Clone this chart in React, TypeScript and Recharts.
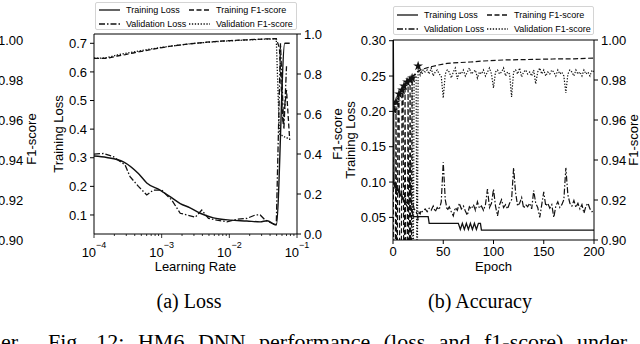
import { ComposedChart, Legend, Line, ReferenceLine, Scatter, XAxis, YAxis, ZAxis } from 'recharts'

const FONT = '"Liberation Sans", Arial, sans-serif'
const SERIF = '"Liberation Serif", "Times New Roman", serif'
const INK = '#111'

const DASH = '5 2.5'
const DASHDOT = '6 2 1.5 2'
const DOT = '1.3 1.6'

// ---- (a) Loss: learning-rate sweep ----
const lrTicks = [1e-4, 1e-3, 1e-2, 1e-1]
const lrMinor = [
  2e-4, 3e-4, 4e-4, 5e-4, 6e-4, 7e-4, 8e-4, 9e-4,
  2e-3, 3e-3, 4e-3, 5e-3, 6e-3, 7e-3, 8e-3, 9e-3,
  2e-2, 3e-2, 4e-2, 5e-2, 6e-2, 7e-2, 8e-2, 9e-2,
]
const lossTicksA = [0.1, 0.2, 0.3, 0.4, 0.5, 0.6, 0.7]
const f1TicksA = [0, 0.2, 0.4, 0.6, 0.8, 1.0]
const lossDomainA: [number, number] = [0.0335, 0.7325]

const lrTrainLoss = [1e-4, 1.54e-4, 2.72e-4, 4.53e-4, 6.02e-4, 9.48e-4, 1.33e-3, 1.88e-3, 2.63e-3, 3.71e-3, 5.83e-3, 1.03e-2, 1.82e-2, 2.86e-2, 3.6e-2, 4.94e-2, 6.6e-2, 7.8e-2]
const trainLossA = [0.306, 0.301, 0.286, 0.245, 0.212, 0.187, 0.164, 0.14, 0.125, 0.106, 0.09, 0.082, 0.079, 0.076, 0.08, 0.065, 0.7, 0.7]

const lrValLoss = [1e-4, 1.37e-4, 1.93e-4, 2.88e-4, 3.41e-4, 4.53e-4, 6.02e-4, 7.55e-4, 1.0e-3, 1.41e-3, 1.88e-3, 2.35e-3, 3.13e-3, 3.92e-3, 4.92e-3, 6.53e-3, 9.2e-3, 1.29e-2, 1.82e-2, 2.42e-2, 2.86e-2, 3.4e-2, 4.26e-2, 4.94e-2, 5.7e-2, 6.4e-2, 7.0e-2]
const valLossA = [0.313, 0.315, 0.304, 0.275, 0.234, 0.2, 0.17, 0.187, 0.187, 0.152, 0.106, 0.1, 0.092, 0.117, 0.088, 0.082, 0.076, 0.085, 0.088, 0.1, 0.1, 0.082, 0.071, 0.065, 0.7, 0.4, 0.62]

const lrF1 = [1e-4, 1.3e-4, 1.6e-4, 2.2e-4, 2.9e-4, 3.8e-4, 5e-4, 6.6e-4, 8.7e-4, 1.15e-3, 1.5e-3, 2e-3, 2.6e-3, 3.5e-3, 4.6e-3, 6e-3, 8e-3, 1.05e-2, 1.4e-2, 1.8e-2, 2.4e-2, 3.2e-2, 4.2e-2, 4.94e-2, 5.5e-2, 6.2e-2, 7e-2, 7.8e-2]
const trainF1A = [0.878, 0.878, 0.879, 0.89, 0.897, 0.905, 0.913, 0.921, 0.928, 0.935, 0.941, 0.946, 0.951, 0.955, 0.959, 0.962, 0.965, 0.967, 0.969, 0.971, 0.973, 0.975, 0.976, 0.977, 0.93, 0.55, 0.72, 0.47]
const valF1A = [0.88, 0.879, 0.883, 0.895, 0.903, 0.91, 0.917, 0.924, 0.93, 0.936, 0.941, 0.946, 0.951, 0.955, 0.958, 0.961, 0.964, 0.966, 0.968, 0.97, 0.972, 0.974, 0.975, 0.976, 0.5, 0.49, 0.48, 0.48]

// ---- (b) Accuracy: training over epochs ----
const epochTicks = [0, 50, 100, 150, 200]
const lossTicksB = [0.05, 0.1, 0.15, 0.2, 0.25, 0.3]
const f1TicksB = [0.9, 0.92, 0.94, 0.96, 0.98, 1.0]
const lossDomainB: [number, number] = [0.018, 0.301]

const trainLossEpochs = [0, 1, 2, 3, 4, 5, 6, 7, 8, 9, 10, 11, 12, 13, 14, 15, 16, 17, 18, 19, 20, 35, 36, 65, 67, 69, 71, 73, 75, 77, 79, 81, 83, 85, 87, 88, 200]
const trainLossB = [0.4, 0.098, 0.092, 0.094, 0.088, 0.09, 0.085, 0.083, 0.08, 0.078, 0.075, 0.073, 0.07, 0.068, 0.066, 0.064, 0.062, 0.061, 0.06, 0.06, 0.051, 0.051, 0.0415, 0.0415, 0.033, 0.0415, 0.033, 0.0415, 0.033, 0.0415, 0.033, 0.0415, 0.033, 0.0415, 0.0415, 0.032, 0.032]

const trainF1Epochs = [0, 1, 2, 3, 4, 5, 6, 7, 8, 9, 10, 11, 12, 13, 14, 15, 16, 17, 18, 19, 20, 21, 22, 23, 24, 25, 30, 37, 45, 54, 65, 77, 90, 110, 130, 159, 180, 200]
const trainF1B = [0.964, 0.85, 0.85, 0.969, 0.85, 0.972, 0.973, 0.85, 0.85, 0.975, 0.976, 0.85, 0.977, 0.85, 0.85, 0.979, 0.85, 0.98, 0.85, 0.981, 0.982, 0.9825, 0.983, 0.9835, 0.984, 0.9845, 0.9855, 0.9865, 0.9875, 0.9883, 0.9887, 0.989, 0.9895, 0.99, 0.9902, 0.9905, 0.9906, 0.991]

const valEpochs = [
  0, 1, 2, 3, 4, 5, 6, 7, 8, 9, 10, 11, 12, 13, 14, 15, 16, 17, 18, 19, 20, 21, 22, 23, 24, 25, 26, 27, 28, 29, 30,
  32, 34, 36, 38, 40, 42, 44, 46, 48, 50, 52, 54, 56, 58, 60, 62, 64, 66, 68, 70, 72, 74, 76, 78, 80, 82, 84, 86, 88, 90,
  92, 94, 96, 98, 100, 102, 104, 106, 108, 110, 112, 114, 116, 118, 120, 122, 124, 126, 128, 130, 132, 134, 136, 138, 140,
  142, 144, 146, 148, 150, 152, 154, 156, 158, 160, 162, 164, 166, 168, 170, 172, 174, 176, 178, 180, 182, 184, 186, 188, 190,
  192, 194, 196, 198, 200,
]
const valF1B = [
  0.962, 0.965, 0.967, 0.969, 0.97, 0.972, 0.973, 0.974, 0.975, 0.975, 0.976, 0.977, 0.977, 0.978, 0.979, 0.979, 0.98, 0.98, 0.981, 0.981, 0.85, 0.982, 0.983, 0.982, 0.85, 0.987, 0.984, 0.9825, 0.9845, 0.983, 0.985,
  0.984, 0.985, 0.983, 0.986, 0.982, 0.984, 0.985, 0.983, 0.982, 0.971, 0.983, 0.985, 0.984, 0.981, 0.984, 0.986, 0.9805, 0.984, 0.983, 0.985,
  0.982, 0.984, 0.986, 0.983, 0.984, 0.985, 0.981, 0.984, 0.983, 0.985, 0.982, 0.984, 0.986, 0.983, 0.976, 0.984, 0.985, 0.983, 0.984, 0.986,
  0.982, 0.984, 0.983, 0.9715, 0.984, 0.985, 0.983, 0.986, 0.9815, 0.984, 0.985, 0.983, 0.984, 0.982, 0.985, 0.978, 0.984, 0.986, 0.983, 0.985,
  0.982, 0.984, 0.983, 0.985, 0.984, 0.982, 0.985, 0.983, 0.984, 0.982, 0.9735, 0.983, 0.985, 0.984, 0.982, 0.985, 0.983, 0.984, 0.982, 0.985,
  0.983, 0.984, 0.982, 0.985, 0.984,
]
const valLossB = [
  0.11, 0.095, 0.1, 0.088, 0.092, 0.085, 0.09, 0.083, 0.087, 0.08, 0.078, 0.075, 0.08, 0.072, 0.07, 0.075, 0.068, 0.128, 0.07, 0.065, 0.068, 0.062, 0.06, 0.058, 0.055, 0.046, 0.057, 0.055, 0.06, 0.058, 0.059,
  0.062, 0.058, 0.063, 0.06, 0.066, 0.058, 0.064, 0.061, 0.072, 0.128, 0.075, 0.06, 0.065, 0.058, 0.052, 0.064, 0.06, 0.07, 0.062, 0.066,
  0.059, 0.053, 0.065, 0.062, 0.068, 0.06, 0.072, 0.063, 0.066, 0.06, 0.068, 0.09, 0.064, 0.07, 0.09, 0.066, 0.052, 0.068, 0.075, 0.064,
  0.068, 0.062, 0.07, 0.075, 0.12, 0.085, 0.066, 0.07, 0.078, 0.063, 0.068, 0.065, 0.07, 0.062, 0.088, 0.07, 0.064, 0.05, 0.068, 0.086,
  0.066, 0.07, 0.063, 0.068, 0.05, 0.066, 0.072, 0.064, 0.068, 0.075, 0.12, 0.082, 0.07, 0.066, 0.074, 0.064, 0.07, 0.062, 0.068, 0.056,
  0.066, 0.07, 0.062, 0.058, 0.06,
]
const starEpochs = [1, 3, 6, 9, 11, 14, 17, 19, 25]
const starF1 = [0.965, 0.969, 0.973, 0.975, 0.977, 0.979, 0.98, 0.981, 0.987]

// cut-off right axis of the neighbouring figure (its curves lie off-page)
const prevF1Ticks = [0.9, 0.92, 0.94, 0.96, 0.98, 1.0]
const prevRows = [{ x: 0, y: 0.95 }, { x: 1, y: 0.95 }]

const pts = (xs: number[], ys: number[]) => xs.map((x, i) => ({ x, y: ys[i] }))

const legendItems = [
  { label: 'Training Loss', dash: undefined as string | undefined, col: 0, row: 0 },
  { label: 'Validation Loss', dash: DASHDOT, col: 0, row: 1 },
  { label: 'Training F1-score', dash: DASH, col: 1, row: 0 },
  { label: 'Validation F1-score', dash: DOT, col: 1, row: 1 },
]

const LegendBox = ({ width, boxH, outerH, rowTop }: { width: number; boxH: number; outerH: number; rowTop: number }) => (
  <div style={{ width, height: outerH, position: 'relative' }}>
    <div
      style={{
        position: 'absolute', left: 0, top: 0, width: width - 2, height: boxH - 2,
        border: '1px solid #d4d4d4', borderRadius: 2, background: '#fff',
      }}
    >
      {legendItems.map((it) => (
        <div
          key={it.label}
          style={{
            position: 'absolute', left: 3 + it.col * 90, top: rowTop + it.row * 13.4 - 6, height: 12,
            display: 'flex', alignItems: 'center', whiteSpace: 'nowrap',
          }}
        >
          <svg width={21} height={4} style={{ display: 'block' }}>
            <line x1={0} x2={21} y1={2} y2={2} stroke={INK} strokeWidth={1.3} strokeDasharray={it.dash} />
          </svg>
          <span style={{ marginLeft: 6, fontSize: 9, fontFamily: FONT, color: '#000', lineHeight: '12px' }}>{it.label}</span>
        </div>
      ))}
    </div>
  </div>
)

const AxisTitle = (props: any) => {
  const { tx, ty, rot, text } = props
  return (
    <text
      x={tx} y={ty} textAnchor="middle" fill="#000" fontSize={13} fontFamily={FONT}
      transform={rot ? `rotate(-90 ${tx} ${ty})` : undefined}
    >
      {text}
    </text>
  )
}

const LogTick = (props: any) => {
  const { x, y, payload } = props
  const p = Math.log10(payload.value)
  const e = Math.round(p)
  const major = Math.abs(p - e) < 1e-6
  const base = y - 7
  return (
    <g>
      <line x1={x} x2={x} y1={base} y2={base + (major ? 4 : 2)} stroke="#000" strokeWidth={0.8} />
      {major ? (
        <text x={x} y={base + 23} textAnchor="middle" fill="#000" fontSize={13} fontFamily={FONT}>
          10<tspan dy={-9} fontSize={9}>{'\u2212' + Math.abs(e)}</tspan>
        </text>
      ) : null}
    </g>
  )
}

const tickStyle = { fill: '#000', fontSize: 13, fontFamily: FONT }

const LossChart = () => (
  <ComposedChart width={360} height={290} margin={{ top: 4, right: 13, bottom: 16, left: 44 }}>
    <Legend
      verticalAlign="top"
      content={() => <LegendBox width={202} boxH={28} outerH={30} rowTop={7.3} />}
      wrapperStyle={{ left: 95, top: 2, width: 202 }}
    />
    <XAxis
      type="number" dataKey="x" scale="log" domain={[1e-4, 1e-1]} allowDataOverflow
      ticks={[...lrTicks, ...lrMinor]} interval={0} height={40} tickSize={4} tickMargin={3}
      tickLine={false} stroke="#000" tick={<LogTick />}
      label={<AxisTitle tx={195.5} ty={271} text="Learning Rate" />}
    />
    <YAxis
      yAxisId="left" domain={lossDomainA} allowDataOverflow ticks={lossTicksA} interval={0} width={50}
      tickSize={4} tickMargin={3} stroke="#000" tick={tickStyle} tickFormatter={(v: number) => v.toFixed(1)}
      label={<AxisTitle tx={62.5} ty={134} rot text="Training Loss" />}
    />
    <YAxis
      yAxisId="right" orientation="right" domain={[0, 1]} allowDataOverflow ticks={f1TicksA} interval={0} width={50}
      tickSize={4} tickMargin={3} stroke="#000" tick={tickStyle} tickFormatter={(v: number) => v.toFixed(1)}
      label={<AxisTitle tx={342} ty={134} rot text="F1-score" />}
    />
    <ReferenceLine yAxisId="left" y={lossDomainA[1]} stroke="#000" />
    <Line yAxisId="right" data={pts(lrF1, trainF1A)} dataKey="y" stroke={INK} strokeWidth={1.3} strokeDasharray={DASH} dot={false} isAnimationActive={false} />
    <Line yAxisId="right" data={pts(lrF1, valF1A)} dataKey="y" stroke={INK} strokeWidth={1.3} strokeDasharray={DOT} dot={false} isAnimationActive={false} />
    <Line yAxisId="left" type="monotone" data={pts(lrTrainLoss, trainLossA)} dataKey="y" stroke={INK} strokeWidth={1.4} dot={false} isAnimationActive={false} />
    <Line yAxisId="left" data={pts(lrValLoss, valLossA)} dataKey="y" stroke={INK} strokeWidth={1.3} strokeDasharray={DASHDOT} dot={false} isAnimationActive={false} />
  </ComposedChart>
)

const AccuracyChart = () => (
  <ComposedChart width={320} height={296} margin={{ top: 5, right: 6, bottom: 16, left: 23 }}>
    <Legend
      verticalAlign="top"
      content={() => <LegendBox width={201} boxH={29} outerH={35} rowTop={8.3} />}
      wrapperStyle={{ left: 73, top: 6, width: 201 }}
    />
    <XAxis
      type="number" dataKey="x" domain={[0, 200]} allowDataOverflow ticks={epochTicks} interval={0} height={40}
      tickSize={4} tickMargin={3} stroke="#000" tick={tickStyle}
      label={<AxisTitle tx={173.5} ty={271} text="Epoch" />}
    />
    <YAxis
      yAxisId="left" domain={lossDomainB} allowDataOverflow ticks={lossTicksB} interval={0} width={50}
      tickSize={4} tickMargin={3} stroke="#000" tick={tickStyle} tickFormatter={(v: number) => v.toFixed(2)}
      label={<AxisTitle tx={35} ty={140} rot text="Training Loss" />}
    />
    <YAxis
      yAxisId="right" orientation="right" domain={[0.9, 1.0]} allowDataOverflow ticks={f1TicksB} interval={0} width={40}
      tickSize={4} tickMargin={3} stroke="#000" tick={tickStyle} tickFormatter={(v: number) => v.toFixed(2)}
      label={<AxisTitle tx={318} ty={140} rot text="F1-score" />}
    />
    <ZAxis range={[30, 30]} />
    <ReferenceLine yAxisId="left" y={lossDomainB[1]} stroke="#000" />
    <Line yAxisId="right" data={pts(trainF1Epochs, trainF1B)} dataKey="y" stroke={INK} strokeWidth={1.2} strokeDasharray={DASH} dot={false} isAnimationActive={false} />
    <Line yAxisId="right" data={pts(valEpochs, valF1B)} dataKey="y" stroke={INK} strokeWidth={1.2} strokeDasharray={DOT} dot={false} isAnimationActive={false} />
    <Line yAxisId="left" data={pts(trainLossEpochs, trainLossB)} dataKey="y" stroke={INK} strokeWidth={1.3} dot={false} isAnimationActive={false} />
    <Line yAxisId="left" data={pts(valEpochs, valLossB)} dataKey="y" stroke={INK} strokeWidth={1.2} strokeDasharray={DASHDOT} dot={false} isAnimationActive={false} />
    <Scatter yAxisId="right" data={pts(starEpochs, starF1)} dataKey="y" shape="star" fill={INK} isAnimationActive={false} />
  </ComposedChart>
)

const PrevAxis = () => (
  <ComposedChart width={150} height={296} data={prevRows} margin={{ top: 40, right: 0, bottom: 56, left: 0 }}>
    <XAxis type="number" dataKey="x" domain={[0, 1]} hide />
    <YAxis
      yAxisId="f1" orientation="right" domain={[0.9, 1.0]} ticks={prevF1Ticks} interval={0} width={57}
      tickSize={4} tickMargin={1} stroke="#000" tick={tickStyle} tickFormatter={(v: number) => v.toFixed(2)}
      label={<AxisTitle tx={135.5} ty={139} rot text="F1-score" />}
    />
    <Line yAxisId="f1" dataKey="y" stroke="none" dot={false} isAnimationActive={false} />
  </ComposedChart>
)

export default function App() {
  return (
    <div style={{ position: 'absolute', left: 0, top: 0, width: 640, height: 344, overflow: 'hidden', background: '#fff' }}>
      <div style={{ position: 'absolute', left: -100, top: 0 }}>
        <PrevAxis />
      </div>
      <div style={{ position: 'absolute', left: 0, top: 0 }}>
        <LossChart />
      </div>
      <div style={{ position: 'absolute', left: 320, top: 0 }}>
        <AccuracyChart />
      </div>
      <svg width={640} height={344} style={{ position: 'absolute', left: 0, top: 0, pointerEvents: 'none' }}>
        <text x={189} y={308} textAnchor="middle" fontSize={20} fontFamily={SERIF} fill="#000">(a) Loss</text>
        <text x={480} y={308} textAnchor="middle" fontSize={20} fontFamily={SERIF} fill="#000">(b) Accuracy</text>
        <text x={18} y={349} textAnchor="end" fontSize={22} fontFamily={SERIF} fill="#000">ler</text>
        <text x={48} y={349} fontSize={22} fontFamily={SERIF} fill="#000" wordSpacing={8}>
          Fig. 12: HM6 DNN performance (loss and f1-score) under
        </text>
      </svg>
    </div>
  )
}
